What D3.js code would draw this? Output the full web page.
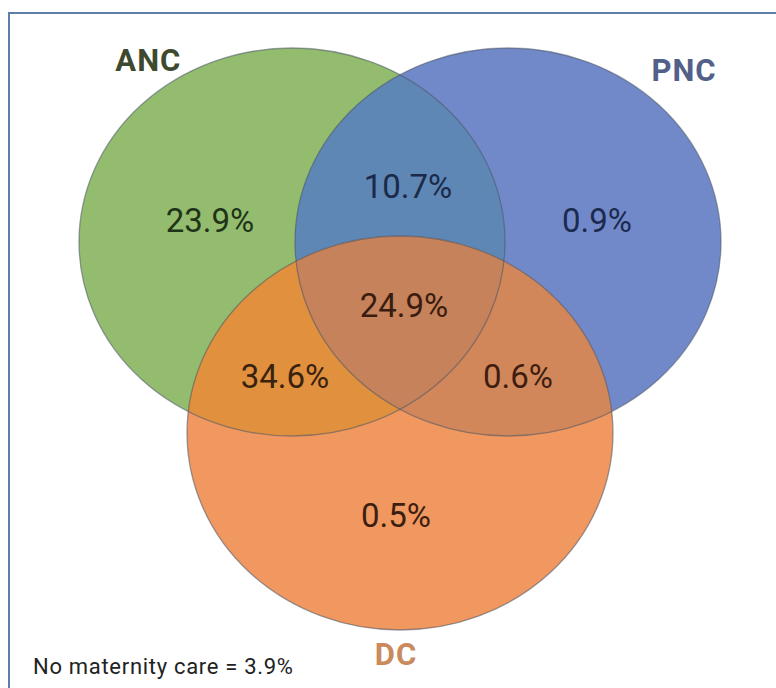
<!DOCTYPE html>
<html>
<head>
<meta charset="utf-8">
<script src="https://cdn.jsdelivr.net/npm/d3@7"></script>
<style>
  html, body { margin: 0; padding: 0; background: #ffffff; }
  svg { display: block; }
</style>
</head>
<body>
<svg id="chart" width="776" height="688"></svg>
<script>
// ---- data ----
const sets = ["ANC", "PNC", "DC"];
const regionKeys = ["ANC", "PNC", "DC", "ANC&PNC", "ANC&DC", "PNC&DC", "ANC&PNC&DC"];
const regionValues = [23.9, 0.9, 0.5, 10.7, 34.6, 0.6, 24.9];
const noCareLabel = "No maternity care";
const noCareValue = 3.9;

// ---- layout (unit coordinates) ----
const setCentre = { ANC: [-1, 0], PNC: [1, 0], DC: [0, 1] };
const regionAnchor = {
  "ANC": [-1.76, -0.052], "PNC": [1.824, -0.052], "DC": [-0.037, 1.492],
  "ANC&PNC": [0.074, -0.23], "ANC&DC": [-1.065, 0.764], "PNC&DC": [1.093, 0.764],
  "ANC&PNC&DC": [0.037, 0.393]
};
const setLabelAnchor = { ANC: [-2.33, -0.895], PNC: [2.63, -0.843], DC: [-0.037, 2.215] };

const x = d3.scaleLinear().domain([-1, 1]).range([292, 508]);
const y = d3.scaleLinear().domain([0, 1]).range([242, 433]);
const RX = 213;
const RY = { ANC: 194, PNC: 194, DC: 197 };

const setFill = { ANC: "#93bc6e", PNC: "#7189c9", DC: "#f09860" };
const regionFill = {
  "ANC&PNC": "#5f87b5", "ANC&DC": "#e1913e", "PNC&DC": "#d2875a", "ANC&PNC&DC": "#c6825a"
};
const textFill = {
  "ANC": "#1f3318", "PNC": "#1c2a4e", "DC": "#3c1e10",
  "ANC&PNC": "#1a2a48", "ANC&DC": "#3a2210", "PNC&DC": "#3e1e10", "ANC&PNC&DC": "#3a1c10"
};
const labelFill = { ANC: "#3e4a2f", PNC: "#52608a", DC: "#c98a5e" };

const svg = d3.select("#chart");

// frame
svg.append("rect").attr("x", 9).attr("y", 13).attr("width", 820).attr("height", 720)
  .attr("fill", "none").attr("stroke", "#5d7ea6").attr("stroke-width", 2);

const defs = svg.append("defs");
sets.forEach(s => {
  defs.append("clipPath").attr("id", "clip-" + s)
    .append("ellipse")
    .attr("cx", x(setCentre[s][0])).attr("cy", y(setCentre[s][1]))
    .attr("rx", RX).attr("ry", RY[s]);
});

function ellipse(sel, s) {
  return sel.append("ellipse")
    .attr("cx", x(setCentre[s][0])).attr("cy", y(setCentre[s][1]))
    .attr("rx", RX).attr("ry", RY[s]);
}

const g = svg.append("g");
ellipse(g, "ANC").attr("fill", setFill.ANC);
ellipse(g, "PNC").attr("fill", setFill.PNC);
ellipse(g.append("g").attr("clip-path", "url(#clip-PNC)"), "ANC").attr("fill", regionFill["ANC&PNC"]);
ellipse(g, "DC").attr("fill", setFill.DC);
ellipse(g.append("g").attr("clip-path", "url(#clip-DC)"), "ANC").attr("fill", regionFill["ANC&DC"]);
ellipse(g.append("g").attr("clip-path", "url(#clip-DC)"), "PNC").attr("fill", regionFill["PNC&DC"]);
ellipse(g.append("g").attr("clip-path", "url(#clip-DC)").append("g").attr("clip-path", "url(#clip-PNC)"), "ANC")
  .attr("fill", regionFill["ANC&PNC&DC"]);

// outlines
sets.forEach(s => {
  ellipse(g, s).attr("fill", "none").attr("stroke", "#4b5666")
    .attr("stroke-width", 1.3).attr("stroke-opacity", 0.55);
});

// region values
svg.append("g").selectAll("text").data(regionKeys).join("text")
  .attr("x", k => x(regionAnchor[k][0]))
  .attr("y", k => y(regionAnchor[k][1]))
  .attr("text-anchor", "middle")
  .attr("font-family", "Roboto, 'Noto Sans', sans-serif")
  .attr("font-size", 33)
  .attr("fill", k => textFill[k])
  .text((k, i) => regionValues[i].toFixed(1) + "%");

// set labels
svg.append("g").selectAll("text").data(sets).join("text")
  .attr("x", s => x(setLabelAnchor[s][0]))
  .attr("y", s => y(setLabelAnchor[s][1]))
  .attr("text-anchor", "middle")
  .attr("font-family", "Roboto, 'Noto Sans', sans-serif")
  .attr("font-weight", "bold")
  .attr("font-size", 31)
  .attr("letter-spacing", 1)
  .attr("fill", s => labelFill[s])
  .text(s => s);

// note
svg.append("text")
  .attr("x", 33).attr("y", 674)
  .attr("font-family", "Roboto, 'Noto Sans', sans-serif")
  .attr("font-size", 22)
  .attr("letter-spacing", 0.7)
  .attr("fill", "#222")
  .text(noCareLabel + " = " + noCareValue.toFixed(1) + "%");
</script>
</body>
</html>
